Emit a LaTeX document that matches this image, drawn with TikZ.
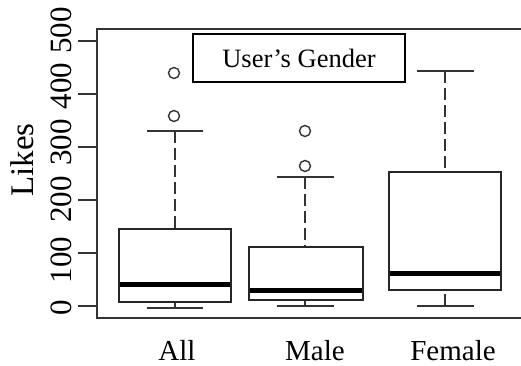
\documentclass[tikz,border=0pt]{standalone}
\usepackage{fontspec}
\setmainfont{Liberation Serif}
\begin{document}
\begin{tikzpicture}[x=1pt,y=-1pt,
  frameline/.style={draw=black!80, line width=1.5pt},
  boxline/.style={draw=black!85, line width=1.6pt},
  medline/.style={draw=black, line width=5pt},
  whisk/.style={draw=black!80, line width=1.6pt, dash pattern=on 12pt off 5pt},
  capline/.style={draw=black!80, line width=1.6pt},
  outlier/.style={draw=black!80, line width=1.4pt, circle, minimum size=11pt, inner sep=0pt},
  ticklab/.style={rotate=90, anchor=base, font=\fontsize{31}{31}\selectfont},
  catlab/.style={anchor=base, font=\fontsize{29}{29}\selectfont},
  legendbox/.style={draw=black, line width=1.3pt, minimum width=212pt, minimum height=48pt, inner sep=0pt, font=\fontsize{26.5}{27}\selectfont}]
\useasboundingbox (0,0) rectangle (521,366);
% frame
\draw[frameline] (521,29) -- (97,29) -- (97,318) -- (521,318);
% y ticks
\foreach \v/\ly in {0/307.5,100/260,200/199.5,300/142.5,400/86,500/30.5}{
  \draw[frameline] (78,{306-0.53*\v}) -- (97,{306-0.53*\v});
  \node[ticklab] (t\v) at (71,\ly) {\v};
}
\node[rotate=90, anchor=base, font=\fontsize{33}{33}\selectfont] (ylab) at (33,160) {Likes};
% boxes: name/center/left/right/top/bottom/median/upper cap/lower cap/cap half width
\foreach \n/\c/\l/\r/\t/\b/\m/\u/\d/\h in {
  all/175/119/231/229/302/284/131/308/28,
  male/305/249/363/247/300/290/177/306/28.5,
  female/445/389/501/172/290/273/71/306/28.5}{
  \coordinate (\n-ucap) at (\c,\u);
  \coordinate (\n-dcap) at (\c,\d);
  \coordinate (\n-top) at (\c,\t);
  \coordinate (\n-bot) at (\c,\b);
  \draw[whisk] (\n-ucap) -- (\n-top);
  \draw[whisk] (\n-dcap) -- (\n-bot);
  \draw[capline] (\c-\h,\u) -- (\c+\h,\u);
  \draw[capline] (\c-\h,\d) -- (\c+\h,\d);
  \draw[boxline] (\l,\t) rectangle (\r,\b);
  \draw[medline] (\l+0.8,\m) -- (\r-0.8,\m);
}
% outliers
\node[outlier] (oa1) at (174,73) {};
\node[outlier] (oa2) at (174,116) {};
\node[outlier] (om1) at (305,131) {};
\node[outlier] (om2) at (305,166) {};
% legend
\node[legendbox] (leg) at (299,58) {User’s Gender};
% category labels
\node[catlab] (c1) at (177,360) {All};
\node[catlab] (c2) at (315,360) {Male};
\node[catlab] (c3) at (453,360) {Female};
\end{tikzpicture}
\end{document}
